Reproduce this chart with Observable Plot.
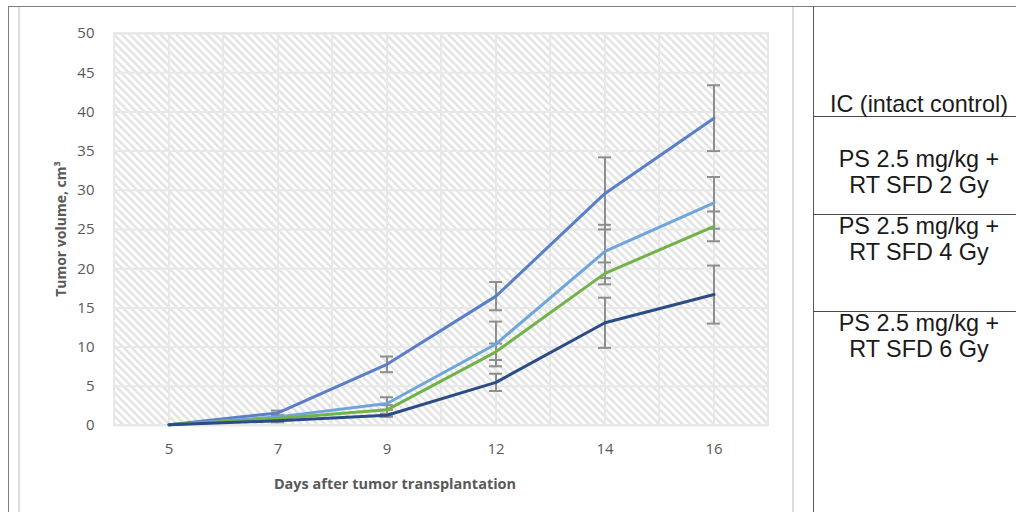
<!DOCTYPE html>
<html>
<head>
<meta charset="utf-8">
<script src="https://cdn.jsdelivr.net/npm/d3@7"></script>
<script src="https://cdn.jsdelivr.net/npm/@observablehq/plot@0.6"></script>
<style>
  html, body { margin: 0; padding: 0; background: #fff; }
  body { width: 1016px; height: 512px; overflow: hidden; position: relative; }
  .ln { position: absolute; }
  .leg { position: absolute; left: 813px; width: 212px; text-align: center; font-family: "Liberation Sans", Arial, sans-serif; font-size: 23.4px; line-height: 26px; color: #1a1a1a; white-space: nowrap; }
  .atitle { position: absolute; font-family: "Open Sans", sans-serif; font-weight: bold; font-size: 14.5px; color: #595959; white-space: nowrap; }
  #chart { position: absolute; left: 0; top: 0; }
</style>
</head>
<body>
<div id="chart"></div>
<script>
// ---- data ----
const days = ["5", "7", "9", "12", "14", "16"];
const yTicks = [0, 5, 10, 15, 20, 25, 30, 35, 40, 45, 50];
const seriesNames = ["IC (intact control)", "PS 2.5 mg/kg + RT SFD 2 Gy", "PS 2.5 mg/kg + RT SFD 4 Gy", "PS 2.5 mg/kg + RT SFD 6 Gy"];
const seriesColors = ["#5A7EC7", "#6EA6DB", "#72B249", "#2C4C86"];
const icValues   = [0.1, 1.6, 7.8, 16.5, 29.6, 39.2];
const icErr      = [0,   0.3, 1.0, 1.8,  4.6,  4.2];
const gy2Values  = [0.1, 1.1, 2.8, 10.4, 22.2, 28.4];
const gy2Err     = [0,   0.2, 0.8, 2.85, 3.4,  3.3];
const gy4Values  = [0.1, 0.9, 2.0, 9.4,  19.4, 25.4];
const gy4Err     = [0,   0.1, 0.6, 1.05, 1.4,  1.9];
const gy6Values  = [0.1, 0.6, 1.3, 5.5,  13.1, 16.7];
const gy6Err     = [0,   0.2, 0.2, 1.1,  3.2,  3.7];
const legendLines = [["IC (intact control)"], ["PS 2.5 mg/kg +", "RT SFD 2 Gy"], ["PS 2.5 mg/kg +", "RT SFD 4 Gy"], ["PS 2.5 mg/kg +", "RT SFD 6 Gy"]];
const xTitle = "Days after tumor transplantation";
const yTitle = "Tumor volume, cm³";

// ---- table built from arrays ----
const allValues = [icValues, gy2Values, gy4Values, gy6Values];
const allErr = [icErr, gy2Err, gy4Err, gy6Err];
const rows = [];
seriesNames.forEach((s, si) => {
  days.forEach((d, di) => {
    rows.push({series: s, day: d, value: allValues[si][di], err: allErr[si][di]});
  });
});
const errRows = rows.filter(r => r.err > 0);

const grid = "#e8e8e8";
const errColor = "#8e8e8e";

const svg = Plot.plot({
  width: 800,
  height: 512,
  marginLeft: 113,
  marginRight: 32,
  marginTop: 33,
  marginBottom: 87,
  style: {fontFamily: "'Open Sans', sans-serif", fontSize: "15px", color: "#595959", background: "transparent", overflow: "visible"},
  x: {type: "band", domain: days, padding: 0, label: null, tickSize: 0, tickPadding: 18},
  y: {domain: [0, 50], ticks: yTicks, label: null, tickSize: 0, tickPadding: 19},
  color: {domain: seriesNames, range: seriesColors},
  marks: [
    Plot.frame({fill: "url(#hatch)", stroke: "none"}),
    Plot.cell(days, {x: d => d, fill: "none", stroke: grid, strokeWidth: 2}),
    Plot.ruleX(days, {x: d => d, stroke: grid, strokeWidth: 2}),
    Plot.ruleY(yTicks, {y: d => d, stroke: grid, strokeWidth: 2}),
    Plot.ruleX(errRows, {x: "day", y1: r => r.value - r.err, y2: r => r.value + r.err, stroke: errColor, strokeWidth: 2}),
    Plot.tickY(errRows, {x: "day", y: r => r.value - r.err, stroke: errColor, strokeWidth: 2, insetLeft: 48, insetRight: 48}),
    Plot.tickY(errRows, {x: "day", y: r => r.value + r.err, stroke: errColor, strokeWidth: 2, insetLeft: 48, insetRight: 48}),
    Plot.line(rows, {x: "day", y: "value", z: "series", stroke: "series", strokeWidth: 3, strokeLinejoin: "round"})
  ]
});

d3.select(svg).selectAll("text").attr("font-size", 15).style("font-size", "15px").attr("fill", "#595959");

d3.select(svg).insert("defs", ":first-child").html(
  '<pattern id="hatch" patternUnits="userSpaceOnUse" width="5.5" height="5.5" patternTransform="rotate(-45)">' +
  '<rect width="5.5" height="5.5" fill="#ffffff"></rect>' +
  '<rect width="2.4" height="5.5" fill="#e3e3e3"></rect>' +
  '</pattern>'
);
document.getElementById("chart").appendChild(svg);

// ---- frame lines ----
function line(l, t, w, h, c) {
  const e = document.createElement("div");
  e.className = "ln";
  e.style.left = l + "px"; e.style.top = t + "px"; e.style.width = w + "px"; e.style.height = h + "px"; e.style.background = c;
  document.body.appendChild(e);
}
line(8, 6, 1008, 1, "#7f7f7f");
line(8, 6, 1, 506, "#7f7f7f");
line(18, 7, 2, 505, "#dcdcdc");
line(792, 7, 2, 505, "#dcdcdc");
line(813, 6, 1, 506, "#5a5a5a");
line(813, 116, 203, 1, "#4a4a4a");
line(813, 214, 203, 1, "#4a4a4a");
line(813, 311, 203, 1, "#4a4a4a");

// ---- legend text ----
const legendTops = [[91], [146, 172], [213, 239], [310, 336]];
legendLines.forEach((ls, i) => {
  ls.forEach((t, j) => {
    const e = document.createElement("div");
    e.className = "leg";
    e.style.top = legendTops[i][j] + "px";
    e.textContent = t;
    document.body.appendChild(e);
  });
});

// ---- axis titles ----
const xt = document.createElement("div");
xt.className = "atitle";
xt.style.left = "395px"; xt.style.top = "483px"; xt.style.transform = "translate(-50%,-50%)";
xt.textContent = xTitle;
document.body.appendChild(xt);
const yt = document.createElement("div");
yt.className = "atitle";
yt.style.fontSize = "14px";
yt.style.left = "60px"; yt.style.top = "229px"; yt.style.transform = "translate(-50%,-50%) rotate(-90deg)";
yt.textContent = yTitle;
document.body.appendChild(yt);
</script>
</body>
</html>
